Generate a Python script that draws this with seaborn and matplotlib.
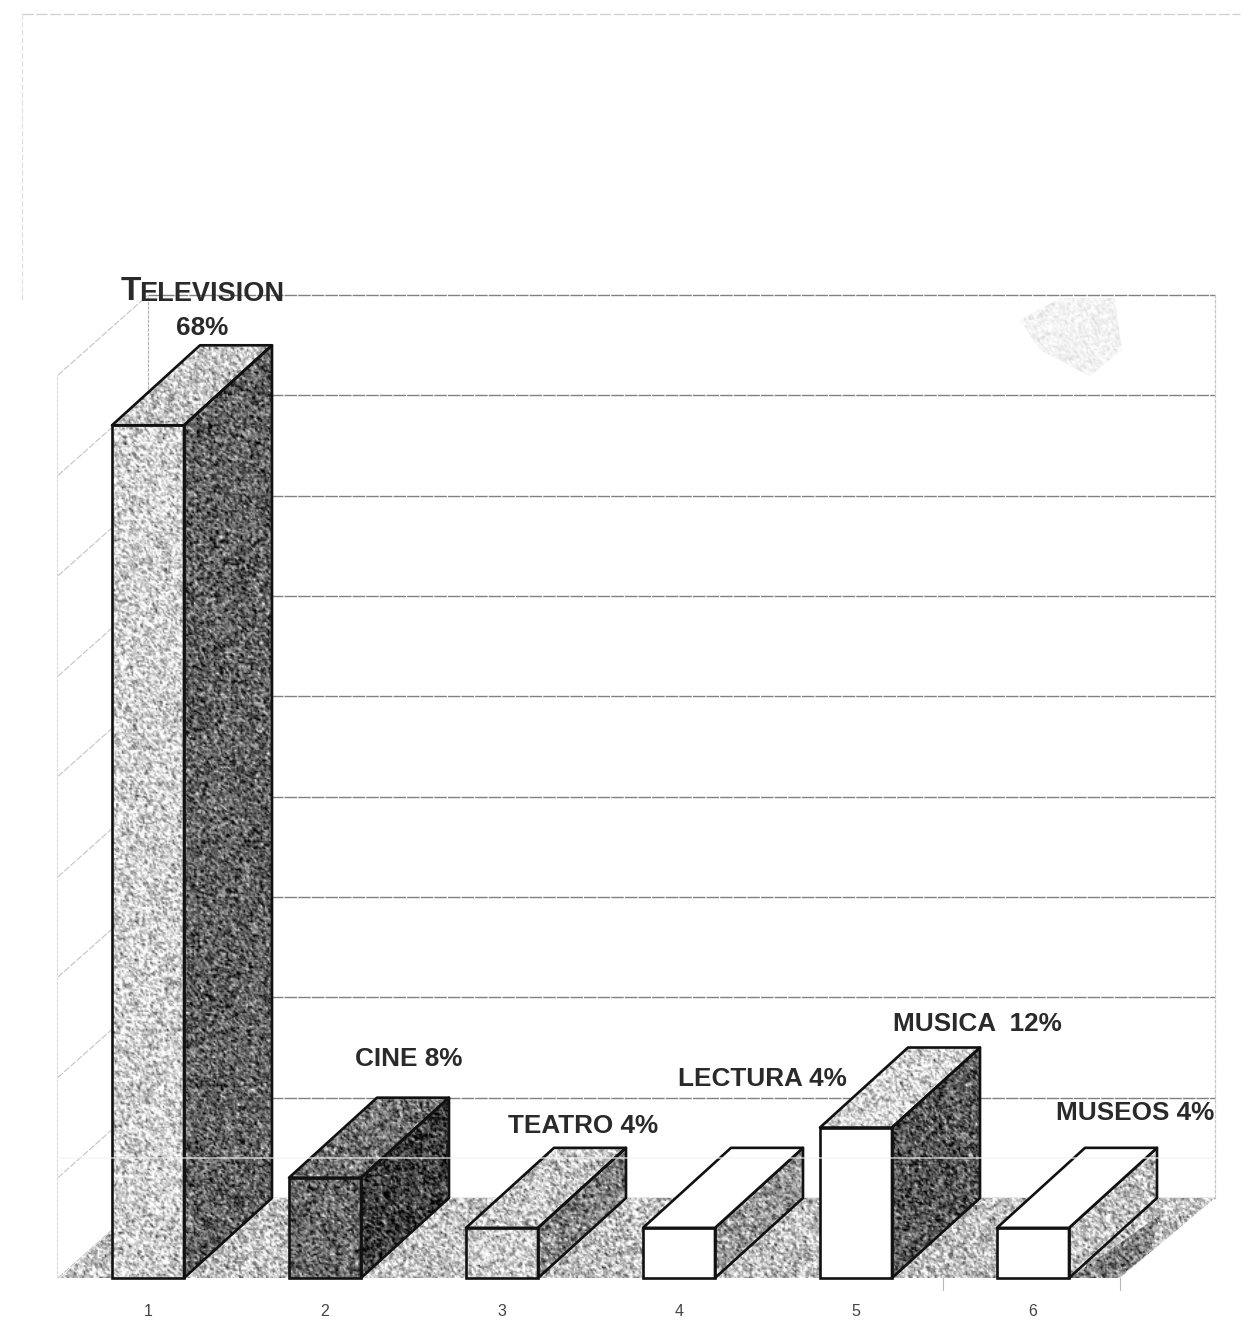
import numpy as np
import pandas as pd
import seaborn as sns
import matplotlib
matplotlib.use("Agg")
import matplotlib.pyplot as plt
from matplotlib.patches import Polygon
from matplotlib.lines import Line2D

# Datos
categorias = ["1", "2", "3", "4", "5", "6"]
valores = [68, 8, 4, 4, 12, 4]
etiquetas = ["68%", "CINE 8%", "TEATRO 4%", "LECTURA 4%", "MUSICA  12%", "MUSEOS 4%"]
lineas_guia = [0, 8, 16, 24, 32, 40, 48, 56, 64, 72]

# Grises de cada cara: frente, lado, techo (None = blanco liso)
gris_frente = [0.82, 0.40, 0.82, None, None, None]
gris_lado = [0.38, 0.24, 0.52, 0.60, 0.34, 0.76]
gris_techo = [0.78, 0.45, 0.78, None, 0.84, None]

W, H = 1257, 1341
X0, PX_CAT = 148.0, 177.0
Y0, PX_PCT = 1278.0, 12.54
ANCHO = 72 / PX_CAT
DX = 88 / PX_CAT
DY = 80 / PX_PCT

rng = np.random.default_rng(4)


def px_x(p):
    return (p - X0) / PX_CAT


def px_y(p):
    return (Y0 - p) / PX_PCT


def textura(ax, parche, gris, z, fuerza=0.17):
    # moteado de fotocopia, solo decorativo
    x0, y0 = parche.get_xy().min(axis=0)
    x1, y1 = parche.get_xy().max(axis=0)
    filas = max(int((y1 - y0) * PX_PCT / 1.4), 3)
    cols = max(int((x1 - x0) * PX_CAT / 1.4), 3)
    ruido = rng.normal(0, 1, (filas + 1, cols + 1))
    ruido = (ruido[:-1, :-1] + ruido[1:, 1:] + ruido[:-1, 1:]) / 1.7
    arr = np.clip(gris + ruido * fuerza, 0, 1)
    im = ax.imshow(arr, cmap="gray", vmin=0, vmax=1, extent=(x0, x1, y0, y1),
                   aspect="auto", interpolation="bilinear", zorder=z)
    im.set_clip_path(parche)


def cara(ax, puntos, gris):
    fc = "white" if gris is None else "none"
    pol = Polygon(puntos, closed=True, facecolor=fc, edgecolor="#111111", linewidth=1.9,
                  joinstyle="round", zorder=3.5, clip_on=False)
    ax.add_patch(pol)
    if gris is not None:
        fondo = Polygon(puntos, closed=True, fc="none", ec="none")
        ax.add_patch(fondo)
        textura(ax, fondo, gris, 3.1)


sns.set_theme(style="white")
plt.rcParams["font.family"] = ["Liberation Sans", "DejaVu Sans"]

fig = plt.figure(figsize=(W / 100, H / 100), dpi=100, facecolor="white")
ax = fig.add_axes([0, (H - Y0) / H, 1, Y0 / H])

df = pd.DataFrame({"categoria": categorias, "valor": valores})
sns.barplot(data=df, x="categoria", y="valor", order=categorias, color="white", saturation=1,
            width=ANCHO, edgecolor="#111111", linewidth=1.9, ax=ax, zorder=3.5)

# mancha del escaner arriba a la derecha
mancha = Polygon([(px_x(1020), px_y(320)), (px_x(1060), px_y(298)), (px_x(1115), px_y(298)),
                  (px_x(1122), px_y(350)), (px_x(1090), px_y(376)), (px_x(1040), px_y(350))],
                 closed=True, fc="none", ec="none")
ax.add_patch(mancha)
textura(ax, mancha, 0.95, 0.9, fuerza=0.035)

# pared del fondo
xfin = px_x(1215)
for v in lineas_guia:
    ax.plot([px_x(148), xfin], [v + DY, v + DY], color="#808080", lw=1.0, ls=(0, (9, 0.8)), zorder=1)
    ax.plot([px_x(58), px_x(148)], [v, v + DY], color="#c4c4c4", lw=0.8, ls=(0, (6, 1.5)), zorder=1)
tope = lineas_guia[-1]
ax.plot([px_x(148), px_x(148)], [DY, tope + DY], color="#b0b0b0", lw=0.8, ls=(0, (3, 1)), zorder=1)
ax.plot([px_x(57), px_x(57)], [0, tope], color="#dadada", lw=0.8, ls=(0, (3, 1)), zorder=1)
ax.plot([xfin, xfin], [DY, tope + DY], color="#c4c4c4", lw=0.9, ls=(0, (3, 1)), zorder=1)

# piso
piso = Polygon([(px_x(60), 0), (px_x(1120), 0), (px_x(1215), DY), (px_x(148), DY)],
               closed=True, facecolor="none", edgecolor="none", zorder=2)
ax.add_patch(piso)
textura(ax, piso, 0.76, 2)
sombra = Polygon([(px_x(1070), 0), (px_x(1118), 0), (px_x(1150), px_y(1252)), (px_x(1160), px_y(1215))],
                 closed=True, facecolor="none", edgecolor="none", zorder=2)
ax.add_patch(sombra)
textura(ax, sombra, 0.5, 2.1)

# marquitas bajo el piso
for p in [943, 1120]:
    ax.plot([px_x(p), px_x(p)], [0, px_y(1290)], color="#b8b8b8", lw=0.8, clip_on=False, zorder=1)

# caras 3D de cada barra
for i, barra in enumerate(ax.patches[:len(valores)]):
    x = barra.get_x()
    w = barra.get_width()
    h = barra.get_height()
    barra.set_facecolor("white" if gris_frente[i] is None else "none")
    barra.set_zorder(3.5)
    barra.set_clip_on(False)
    if gris_frente[i] is not None:
        frente = Polygon([(x, 0), (x + w, 0), (x + w, h), (x, h)], closed=True, fc="none", ec="none")
        ax.add_patch(frente)
        textura(ax, frente, gris_frente[i], 3.1)
    cara(ax, [(x + w, 0), (x + w + DX, DY), (x + w + DX, h + DY), (x + w, h)], gris_lado[i])
    cara(ax, [(x, h), (x + w, h), (x + w + DX, h + DY), (x + DX, h + DY)], gris_techo[i])

# raya clara del escaner
ax.plot([px_x(60), px_x(1215)], [px_y(1158)] * 2, color="#f2f2f2", lw=1.4, alpha=0.6, zorder=4)

# textos
kw = dict(fontweight="bold", color="#2a2a2a", fontsize=18.8, va="center", zorder=6)
ax.text(px_x(121), px_y(292), "T", ha="left", **{**kw, "fontsize": 24})
ax.text(px_x(139), px_y(294), "ELEVISION", ha="left", **{**kw, "fontsize": 19.5})
pos_etiquetas = [(202, 328), (409, 1059), (583, 1126), (762, 1079), (977, 1024), (1135, 1113)]
for txt, (px, py) in zip(etiquetas, pos_etiquetas):
    ax.text(px_x(px), px_y(py), txt, ha="center", **kw)

ax.set_xlim(-X0 / PX_CAT, (W - X0) / PX_CAT)
ax.set_ylim(0, Y0 / PX_PCT)
ax.set_xlabel("")
ax.set_ylabel("")
ax.set_yticks([])
ax.tick_params(axis="x", length=0, pad=19, labelsize=11.5, labelcolor="#444444")
sns.despine(ax=ax, left=True, bottom=True)
ax.patch.set_alpha(0)

# borde de la pagina escaneada
fig.add_artist(Line2D([22 / W, 1240 / W], [1 - 14 / H, 1 - 14 / H], color="#cfcfcf", lw=0.9, ls=(0, (9, 2))))
fig.add_artist(Line2D([22 / W, 22 / W], [1 - 14 / H, 1 - 300 / H], color="#dedede", lw=0.8, ls=(0, (5, 2))))

fig.savefig("out.png", dpi=100)
